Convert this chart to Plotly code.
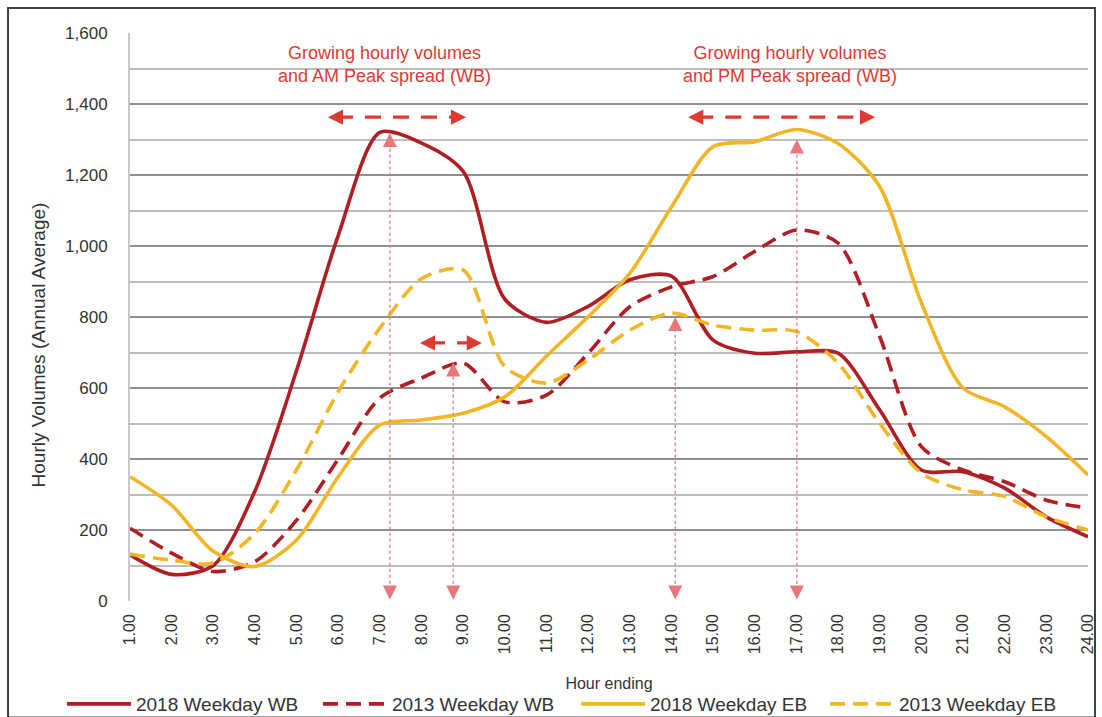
import plotly.graph_objects as go

hours = list(range(1, 25))
hour_labels = [f"{h}.00" for h in hours]

wb_2018 = [130, 75, 100, 310, 650, 1030, 1320, 1290, 1210, 850, 785, 830, 905, 915, 735, 698, 702, 698, 538, 369, 364, 318, 237, 181]
wb_2013 = [205, 135, 83, 111, 228, 400, 572, 628, 670, 561, 580, 698, 829, 885, 914, 985, 1045, 1008, 745, 435, 369, 336, 284, 262]
eb_2018 = [350, 270, 140, 97, 172, 350, 496, 510, 529, 575, 690, 801, 923, 1110, 1280, 1294, 1328, 1289, 1167, 840, 600, 547, 463, 355]
eb_2013 = [132, 115, 107, 191, 370, 590, 769, 908, 932, 660, 614, 679, 763, 811, 777, 763, 759, 670, 500, 360, 313, 294, 237, 200]

series_names = ["2018 Weekday WB", "2013 Weekday WB", "2018 Weekday EB", "2013 Weekday EB"]

RED = "#b01e24"
GOLD = "#f2b526"
ANN = "#dd3a33"
PINK = "#e8767c"
TXT = "#333333"
FONT = "Liberation Sans, Arial, sans-serif"

fig = go.Figure()
legend_ids = ["legend", "legend2", "legend3", "legend4"]
for name, vals, color, dash, lg in [
    (series_names[0], wb_2018, RED, "solid", legend_ids[0]),
    (series_names[1], wb_2013, RED, "15px,8px", legend_ids[1]),
    (series_names[2], eb_2018, GOLD, "solid", legend_ids[2]),
    (series_names[3], eb_2013, GOLD, "15px,8px", legend_ids[3]),
]:
    fig.add_trace(go.Scatter(
        x=hours, y=vals, name=name, mode="lines", legend=lg,
        line=dict(color=color, width=3.6, dash=dash, shape="spline", smoothing=0.8),
        hoverinfo="skip",
    ))

shapes = []
annotations = []

# vertical dotted double arrows (hour position, top value)
vert_arrows = [(7.24, 1318), (8.76, 672), (14.09, 800), (17.01, 1300)]
for xv, ytop in vert_arrows:
    shapes.append(dict(type="line", xref="x", yref="y", x0=xv, x1=xv, y0=15, y1=ytop - 15,
                       line=dict(color=PINK, width=1.3, dash="dot")))
    for tip, tail in [(ytop, ytop - 40), (4, 44)]:
        annotations.append(dict(x=xv, y=tip, ax=xv, ay=tail, xref="x", yref="y", axref="x", ayref="y",
                                text="", showarrow=True, arrowhead=2, arrowsize=2.0, arrowwidth=1.4,
                                arrowcolor=PINK))

# horizontal dashed double arrows
horiz_arrows = [(5.75, 9.07, 1363), (14.4, 18.89, 1363), (7.96, 9.45, 727)]
for xa, xb, yv in horiz_arrows:
    shapes.append(dict(type="line", xref="x", yref="y", x0=xa + 0.22, x1=xb - 0.22, y0=yv, y1=yv,
                       line=dict(color=ANN, width=3.2, dash="16px,12px")))
    for tip, tail in [(xa, xa + 0.3), (xb, xb - 0.3)]:
        annotations.append(dict(x=tip, y=yv, ax=tail, ay=yv, xref="x", yref="y", axref="x", ayref="y",
                                text="", showarrow=True, arrowhead=2, arrowsize=0.95, arrowwidth=3.2,
                                arrowcolor=ANN))

annotations.append(dict(x=7.12, y=1510, xref="x", yref="y", showarrow=False,
                        text="Growing hourly volumes<br>and AM Peak spread (WB)",
                        font=dict(family=FONT, size=18, color=ANN), align="center"))
annotations.append(dict(x=16.85, y=1510, xref="x", yref="y", showarrow=False,
                        text="Growing hourly volumes<br>and PM Peak spread (WB)",
                        font=dict(family=FONT, size=18, color=ANN), align="center"))

# y axis title (placed as rotated text, centred like the reference)
annotations.append(dict(x=-0.096, y=0.45, xref="paper", yref="paper", showarrow=False,
                        text="Hourly Volumes (Annual Average)", textangle=-90,
                        xanchor="center", yanchor="middle",
                        font=dict(family=FONT, size=19, color=TXT)))

# outer frame
shapes.append(dict(type="rect", xref="paper", yref="paper", x0=-0.1273, x1=1.0073, y0=-0.205, y1=1.044,
                   line=dict(color="#3d433d", width=2), fillcolor="rgba(0,0,0,0)", layer="below"))

legend_x = [-0.071, 0.1962, 0.4656, 0.7255]
legend_common = dict(orientation="h", y=-0.148, xanchor="left", yanchor="top",
                     itemwidth=64, font=dict(family=FONT, size=19, color=TXT),
                     bgcolor="rgba(0,0,0,0)")

fig.update_layout(
    width=1102, height=717,
    margin=dict(l=130, r=14, t=33, b=116, autoexpand=False),
    paper_bgcolor="white", plot_bgcolor="white",
    font=dict(family=FONT, size=16, color=TXT),
    shapes=shapes, annotations=annotations,
    showlegend=True,
    legend=dict(x=legend_x[0], **legend_common),
    legend2=dict(x=legend_x[1], **legend_common),
    legend3=dict(x=legend_x[2], **legend_common),
    legend4=dict(x=legend_x[3], **legend_common),
)
fig.update_xaxes(
    range=[1, 24], tickvals=hours, ticktext=hour_labels, tickangle=-90,
    showgrid=False, zeroline=False, showline=False, ticks="", automargin=False,
    ticklabelstandoff=9, tickfont=dict(family=FONT, size=16, color=TXT),
    title=dict(text="Hour ending", font=dict(family=FONT, size=16, color=TXT), standoff=24),
)
fig.update_yaxes(
    range=[0, 1600], dtick=200, tickformat=",", showgrid=True, gridcolor="#8f8f8f", gridwidth=2,
    minor=dict(dtick=100, showgrid=True, gridcolor="#bdbdbd", gridwidth=2),
    zeroline=False, showline=True, linecolor="#c8c8c8", linewidth=2, ticks="", automargin=False,
    ticklabelstandoff=17, tickfont=dict(family=FONT, size=17, color=TXT),
)

fig.write_html("out.html", config={"displayModeBar": False},
               post_script="document.body.style.margin='0px';document.body.style.overflow='hidden';")
